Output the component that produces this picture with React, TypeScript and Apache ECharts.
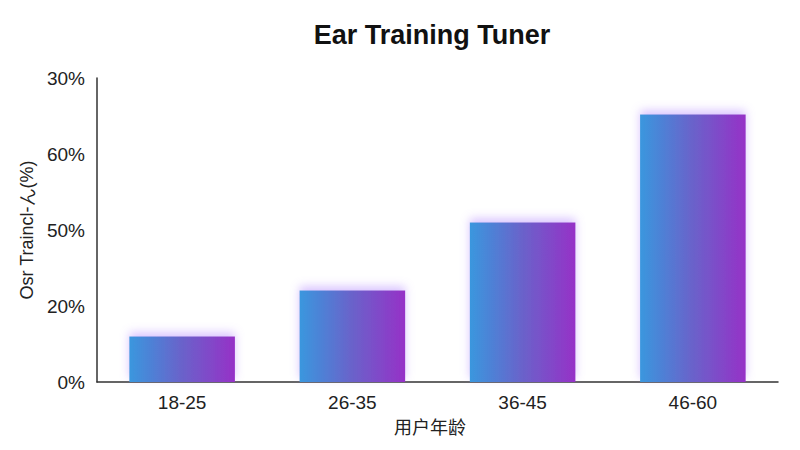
import { useEffect, useRef } from 'react';
import * as echarts from 'echarts';

const TITLE = 'Ear Training Tuner';
const AGE_GROUPS = ['18-25', '26-35', '36-45', '46-60'];
const USAGE_VALUES = [12, 24.1, 42, 70.4];
const Y_TICK_LABELS = ['0%', '20%', '50%', '60%', '30%'];
const X_AXIS_NAME = '用户年龄';
const Y_AXIS_NAME = 'Osr Traincl-ん(%)';

const FONT = "'Liberation Sans', Arial, sans-serif";

export default function App() {
  const chartRef = useRef<HTMLDivElement>(null);

  useEffect(() => {
    if (!chartRef.current) return;
    const chart = echarts.init(chartRef.current, undefined, { renderer: 'svg' });

    const barColor = new echarts.graphic.LinearGradient(0, 0, 1, 0, [
      { offset: 0, color: '#3a97de' },
      { offset: 0.5, color: '#6a62ca' },
      { offset: 1, color: '#9631c7' },
    ]);

    const option: echarts.EChartsOption = {
      animation: false,
      backgroundColor: '#ffffff',
      textStyle: { fontFamily: FONT },
      title: {
        text: TITLE,
        left: 419,
        top: 8,
        textAlign: 'center',
        textStyle: { fontSize: 27, fontWeight: 'bold', color: '#111', fontFamily: FONT },
      },
      // the div sits at (8, 8) because of the body margin
      grid: { left: 89, right: 14, top: 70, bottom: 60 },
      xAxis: {
        type: 'category',
        data: AGE_GROUPS,
        name: X_AXIS_NAME,
        nameLocation: 'middle',
        nameGap: 31,
        nameTextStyle: { fontSize: 18, color: '#222', fontFamily: "'Noto Sans CJK SC', sans-serif", padding: [0, 15, 0, 0] },
        axisLine: { lineStyle: { color: '#333', width: 1.5 } },
        axisTick: { show: false },
        axisLabel: { fontSize: 19, color: '#222', margin: 11 },
      },
      yAxis: {
        type: 'value',
        min: 0,
        max: 80,
        interval: 20,
        name: Y_AXIS_NAME,
        nameLocation: 'middle',
        nameGap: 58,
        nameRotate: 90,
        nameTextStyle: { fontSize: 18, color: '#222' },
        axisLine: { show: true, lineStyle: { color: '#333', width: 1.5 } },
        axisTick: { show: false },
        splitLine: { show: false },
        axisLabel: {
          fontSize: 19,
          color: '#222',
          margin: 12,
          formatter: (v: number) => Y_TICK_LABELS[Math.round(v / 20)] ?? '',
        },
      },
      series: [
        {
          type: 'bar',
          data: USAGE_VALUES,
          barWidth: '62%',
          itemStyle: {
            color: barColor,
            shadowBlur: 10,
            shadowColor: 'rgba(170, 120, 255, 0.45)',
            shadowOffsetY: -4,
          },
        },
      ],
    };

    chart.setOption(option);
    return () => chart.dispose();
  }, []);

  return <div ref={chartRef} style={{ width: 784, height: 434 }} />;
}
